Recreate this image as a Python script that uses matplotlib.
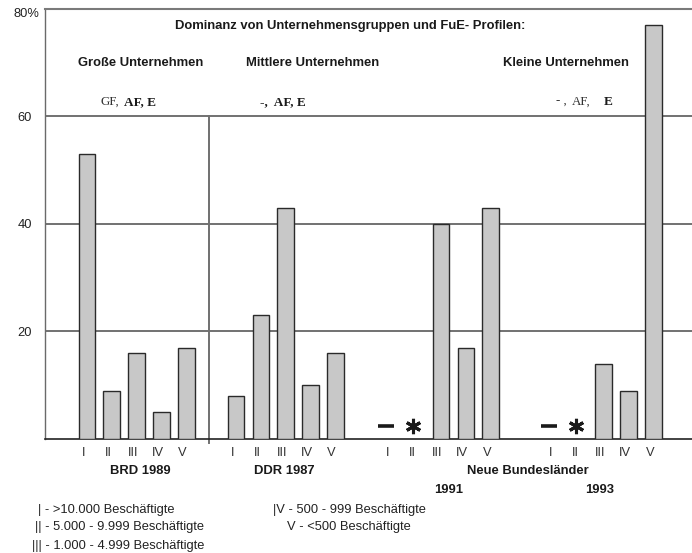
import numpy as np
import matplotlib
matplotlib.use("Agg")
import matplotlib.pyplot as plt
from matplotlib.transforms import ScaledTranslation

# ---- data -------------------------------------------------------------
size_classes = ["I", "II", "III", "IV", "V"]

brd_1989 = [53, 9, 16, 5, 17]
ddr_1987 = [8, 23, 43, 10, 16]
nbl_1991 = [np.nan, np.nan, 40, 17, 43]
nbl_1993 = [np.nan, np.nan, 14, 9, 77]

# symbols for classes without a bar (I: none, II: very few)
nbl_symbols = ["–", "*"]
symbol_level = 2.4

x_brd = [1, 2, 3, 4, 5]
x_ddr = [7, 8, 9, 10, 11]
x_91 = [13.25, 14.25, 15.25, 16.25, 17.25]
x_93 = [19.8, 20.8, 21.8, 22.8, 23.8]

y_ticks = [20, 40, 60, 80]
y_ticklabels = ["20", "40", "60", "80%"]

title = "Dominanz von Unternehmensgruppen und FuE- Profilen:"

legend_lines = [
    ("| - >10.000 Beschäftigte", 38, 510),
    ("|| - 5.000 - 9.999 Beschäftigte", 35, 527),
    ("||| - 1.000 - 4.999 Beschäftigte", 31.5, 546),
    ("|V - 500 - 999 Beschäftigte", 273, 510),
    ("V - <500 Beschäftigte", 287, 527),
]

# ---- figure -------------------------------------------------------------
W, H = 692, 553
DPI = 100
plt.rcParams["font.family"] = ["Liberation Sans", "DejaVu Sans"]

fig = plt.figure(figsize=(W / DPI, H / DPI), dpi=DPI)
ax_left, ax_right = 44.7, 692
ax_top, ax_bottom = 8.7, 439
ax = fig.add_axes([ax_left / W, 1 - ax_bottom / H,
                   (ax_right - ax_left) / W, (ax_bottom - ax_top) / H])


def fx(px):
    return px / W


def fy(py):
    return 1 - py / H


ax.set_xlim(-0.70, 25.35)
ax.set_ylim(0, 80)

bar_w = 0.67
bar_style = dict(width=bar_w, color="#c8c8c8", edgecolor="#2a2a2a",
                 linewidth=1.0, zorder=3)
for xs, vals in [(x_brd, brd_1989), (x_ddr, ddr_1987),
                 (x_91, nbl_1991), (x_93, nbl_1993)]:
    ax.bar(xs, vals, **bar_style)

# symbols instead of bars
for xs in (x_91, x_93):
    ax.plot(xs[0] - 0.2, symbol_level, marker="_", markersize=11,
            markeredgewidth=2.6, color="#1a1a1a", zorder=4, clip_on=False)
    ax.plot(xs[1] - 0.13, symbol_level, marker=(6, 2, 0), markersize=11,
            markeredgewidth=2.2, color="#1a1a1a", zorder=4, clip_on=False)

# horizontal grid lines
for g in (20, 40, 60):
    ax.axhline(g, color="#4a4a4a", linewidth=1.1, zorder=1)

# divider between the two panels
ax.plot([5.9, 5.9], [-0.7, 60], color="#707070", linewidth=1.4,
        zorder=2, clip_on=False)

# spines
ax.spines["right"].set_visible(False)
ax.spines["top"].set_color("#7a7a7a")
ax.spines["top"].set_linewidth(1.5)
ax.spines["left"].set_color("#6a6a6a")
ax.spines["left"].set_linewidth(1.0)
ax.spines["bottom"].set_color("#222222")
ax.spines["bottom"].set_linewidth(1.2)

# ticks
all_x = x_brd + x_ddr + x_91 + x_93
ax.set_xticks([x - 0.15 for x in all_x])
ax.set_xticklabels(size_classes * 4, fontsize=9.3, color="#333333")
ax.set_yticks(y_ticks)
ax.set_yticklabels(y_ticklabels, fontsize=9.3, color="#222222")
ax.tick_params(axis="both", length=0)
ax.tick_params(axis="x", pad=6)
ax.tick_params(axis="y", pad=9)
top_label = ax.get_yticklabels()[-1]
top_label.set_transform(top_label.get_transform()
                        + ScaledTranslation(0.075, -0.035, fig.dpi_scale_trans))

# ---- texts --------------------------------------------------------------
bold = dict(fontweight="bold", fontsize=9.4, color="#1a1a1a")
fig.text(fx(349.7), fy(25.7), title, ha="center", va="center", **bold)
fig.text(fx(140.3), fy(63.3), "Große Unternehmen", ha="center", va="center", **bold)
fig.text(fx(313), fy(63.3), "Mittlere Unternehmen", ha="center", va="center", **bold)
fig.text(fx(565.8), fy(63.3), "Kleine Unternehmen", ha="center", va="center", **bold)

serif = ["Liberation Serif", "DejaVu Serif"]
serif_reg = dict(family=serif, fontsize=9.3, color="#333333", va="baseline", ha="left")
serif_bold = dict(family=serif, fontsize=9.5, fontweight="bold", color="#1a1a1a",
                  va="baseline", ha="left")
base = fy(105)
fig.text(fx(100), base, "GF,", **serif_reg)
fig.text(fx(124), base, "AF, E", **serif_bold)
fig.text(fx(260), base, "-,  AF, E", **serif_bold)
fig.text(fx(556), base, "- ,", **serif_reg)
fig.text(fx(572), base, "AF,", **serif_reg)
fig.text(fx(604), base, "E", **serif_bold)

fig.text(fx(140), fy(470.7), "BRD 1989", ha="center", va="center", **bold)
fig.text(fx(284), fy(470.7), "DDR 1987", ha="center", va="center", **bold)
fig.text(fx(527.5), fy(470.7), "Neue Bundesländer", ha="center", va="center", **bold)
fig.text(fx(448.8), fy(490), "1991", ha="center", va="center", **bold)
fig.text(fx(600), fy(490), "1993", ha="center", va="center", **bold)

for txt, px, py in legend_lines:
    fig.text(fx(px), fy(py), txt, ha="left", va="center", fontsize=9.3,
             color="#222222")

fig.savefig("out.png", dpi=DPI)
